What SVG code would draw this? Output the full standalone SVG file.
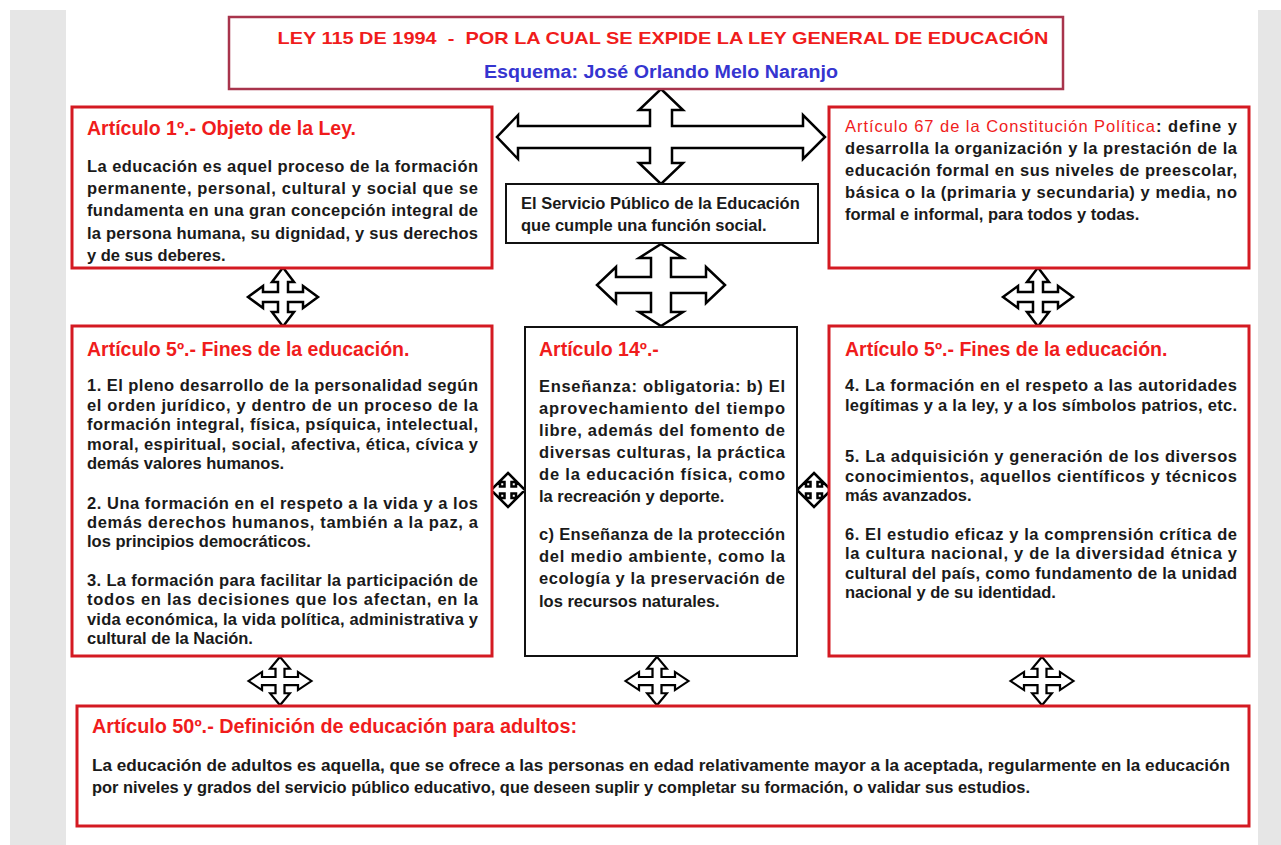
<svg xmlns="http://www.w3.org/2000/svg" xmlns:xlink="http://www.w3.org/1999/xlink" width="1281" height="845" viewBox="0 0 1281 845">
<style>
text{font-family:"Liberation Sans",Arial,Helvetica,sans-serif;font-weight:bold;}
.box{fill:#fff;stroke:#d41a22;stroke-width:3;}
.bbox{fill:#fff;stroke:#111;stroke-width:2;}
.tbox{fill:#fff;stroke:#a8344c;stroke-width:2.5;}
.hd{fill:#f01c1c;font-size:19.5px;}
.bd{fill:#1a1a1a;font-size:16.5px;}
.arr{fill:#fff;stroke:#000;stroke-width:2.5;stroke-linejoin:miter;}
</style>
<defs>
<path id="xs" d="M0,-29.5 L11,-15 L5,-15 L5,-5 L20,-5 L20,-11 L35,0 L20,11 L20,5 L5,5 L5,15 L11,15 L0,29.5 L-11,15 L-5,15 L-5,5 L-20,5 L-20,11 L-35,0 L-20,-11 L-20,-5 L-5,-5 L-5,-15 L-11,-15 Z"/>
<path id="xt" d="M0,-17 L9,-8 L3.5,-8 L3.5,-3.5 L8,-3.5 L8,-9 L17,0 L8,9 L8,3.5 L3.5,3.5 L3.5,8 L9,8 L0,17 L-9,8 L-3.5,8 L-3.5,3.5 L-8,3.5 L-8,9 L-17,0 L-8,-9 L-8,-3.5 L-3.5,-3.5 L-3.5,-8 L-9,-8 Z"/>
</defs>
<rect x="0" y="0" width="1281" height="845" fill="#fff"/>
<rect x="10" y="10" width="1271" height="835" fill="#e6e6e6"/>
<rect x="66" y="10" width="1192" height="835" fill="#fff"/>

<g id="connectors">
<path class="arr" d="M661,89 L683,110 L672,110 L672,126 L803,126 L803,115 L825,137 L803,159 L803,148 L672,148 L672,163 L683,163 L661,184 L639,163 L650,163 L650,148 L518,148 L518,159 L497,137 L518,115 L518,126 L650,126 L650,110 L639,110 Z"/>
<path class="arr" d="M661,244 L683,258 L671,258 L671,277 L706,277 L706,267 L725,285 L706,303 L706,293 L671,293 L671,312 L683,312 L661,326 L639,312 L651,312 L651,293 L616,293 L616,303 L597,285 L616,267 L616,277 L651,277 L651,258 L639,258 Z"/>
<use xlink:href="#xs" class="arr" transform="translate(283,297)"/>
<use xlink:href="#xs" class="arr" transform="translate(1038,297)"/>
<use xlink:href="#xt" class="arr" transform="translate(508,490)"/>
<use xlink:href="#xt" class="arr" transform="translate(814,490)"/>
<use xlink:href="#xs" class="arr" transform="translate(280,681) scale(0.9,0.82)"/>
<use xlink:href="#xs" class="arr" transform="translate(657,681) scale(0.9,0.82)"/>
<use xlink:href="#xs" class="arr" transform="translate(1042,681) scale(0.9,0.82)"/>
</g>

<g id="title">
<rect class="tbox" x="229" y="17" width="834" height="72"/>
<text x="663" y="44" text-anchor="middle" fill="#f01c1c" font-size="17" textLength="771" lengthAdjust="spacingAndGlyphs" xml:space="preserve">LEY 115 DE 1994  -  POR LA CUAL SE EXPIDE LA LEY GENERAL DE EDUCACIÓN</text>
<text x="661" y="78" text-anchor="middle" fill="#3535d0" font-size="17.5" textLength="354" lengthAdjust="spacingAndGlyphs">Esquema: José Orlando Melo Naranjo</text>
</g>

<g id="art1">
<rect class="box" x="72" y="107" width="420" height="161"/>
<text class="hd" x="87" y="135">Artículo 1º.- Objeto de la Ley.</text>
<text class="bd" x="87" y="172" textLength="391" lengthAdjust="spacing">La educación es aquel proceso de la formación</text>
<text class="bd" x="87" y="194" textLength="391" lengthAdjust="spacing">permanente, personal, cultural y social que se</text>
<text class="bd" x="87" y="216" textLength="391" lengthAdjust="spacing">fundamenta en una gran concepción integral de</text>
<text class="bd" x="87" y="239" textLength="391" lengthAdjust="spacing">la persona humana, su dignidad, y sus derechos</text>
<text class="bd" x="87" y="261">y de sus deberes.</text>
</g>

<g id="art67">
<rect class="box" x="829" y="107" width="420" height="161"/>
<text class="bd" x="845" y="132" textLength="392" lengthAdjust="spacing"><tspan fill="#f01c1c" font-weight="normal">Artículo 67 de la Constitución Política</tspan>: define y</text>
<text class="bd" x="845" y="154" textLength="392" lengthAdjust="spacing">desarrolla la organización y la prestación de la</text>
<text class="bd" x="845" y="176" textLength="392" lengthAdjust="spacing">educación formal en sus niveles de preescolar,</text>
<text class="bd" x="845" y="198" textLength="392" lengthAdjust="spacing">básica o la (primaria y secundaria) y media, no</text>
<text class="bd" x="845" y="220">formal e informal, para todos y todas.</text>
</g>

<g id="servicio">
<rect class="bbox" x="506" y="184" width="312" height="59"/>
<text class="bd" x="521" y="209" font-size="16.3">El Servicio Público de la Educación</text>
<text class="bd" x="521" y="231" font-size="16.3">que cumple una función social.</text>
</g>

<g id="art5a">
<rect class="box" x="72" y="326" width="420" height="330"/>
<text class="hd" x="87" y="356">Artículo 5º.- Fines de la educación.</text>
<text class="bd" x="87" y="391" textLength="391" lengthAdjust="spacing">1. El pleno desarrollo de la personalidad según</text>
<text class="bd" x="87" y="411" textLength="391" lengthAdjust="spacing">el orden jurídico, y dentro de un proceso de la</text>
<text class="bd" x="87" y="430" textLength="391" lengthAdjust="spacing">formación integral, física, psíquica, intelectual,</text>
<text class="bd" x="87" y="450" textLength="391" lengthAdjust="spacing">moral, espiritual, social, afectiva, ética, cívica y</text>
<text class="bd" x="87" y="469">demás valores humanos.</text>
<text class="bd" x="87" y="509" textLength="391" lengthAdjust="spacing">2. Una formación en el respeto a la vida y a los</text>
<text class="bd" x="87" y="528" textLength="391" lengthAdjust="spacing">demás derechos humanos, también a la paz, a</text>
<text class="bd" x="87" y="547">los principios democráticos.</text>
<text class="bd" x="87" y="586" textLength="391" lengthAdjust="spacing">3. La formación para facilitar la participación de</text>
<text class="bd" x="87" y="605" textLength="391" lengthAdjust="spacing">todos en las decisiones que los afectan, en la</text>
<text class="bd" x="87" y="625" textLength="391" lengthAdjust="spacing">vida económica, la vida política, administrativa y</text>
<text class="bd" x="87" y="644">cultural de la Nación.</text>
</g>

<g id="art14">
<rect class="bbox" x="525" y="327" width="272" height="329"/>
<text class="hd" x="539" y="356">Artículo 14º.-</text>
<text class="bd" x="539" y="392" textLength="246" lengthAdjust="spacing">Enseñanza: obligatoria: b) El</text>
<text class="bd" x="539" y="414" textLength="246" lengthAdjust="spacing">aprovechamiento del tiempo</text>
<text class="bd" x="539" y="436" textLength="246" lengthAdjust="spacing">libre, además del fomento de</text>
<text class="bd" x="539" y="458" textLength="246" lengthAdjust="spacing">diversas culturas, la práctica</text>
<text class="bd" x="539" y="480" textLength="246" lengthAdjust="spacing">de la educación física, como</text>
<text class="bd" x="539" y="502">la recreación y deporte.</text>
<text class="bd" x="539" y="540" textLength="246" lengthAdjust="spacing">c) Enseñanza de la protección</text>
<text class="bd" x="539" y="562" textLength="246" lengthAdjust="spacing">del medio ambiente, como la</text>
<text class="bd" x="539" y="584" textLength="246" lengthAdjust="spacing">ecología y la preservación de</text>
<text class="bd" x="539" y="607">los recursos naturales.</text>
</g>

<g id="art5b">
<rect class="box" x="829" y="326" width="420" height="330"/>
<text class="hd" x="845" y="356">Artículo 5º.- Fines de la educación.</text>
<text class="bd" x="845" y="391" textLength="392" lengthAdjust="spacing">4. La formación en el respeto a las autoridades</text>
<text class="bd" x="845" y="411" textLength="392" lengthAdjust="spacing">legítimas y a la ley, y a los símbolos patrios, etc.</text>
<text class="bd" x="845" y="462" textLength="392" lengthAdjust="spacing">5. La adquisición y generación de los diversos</text>
<text class="bd" x="845" y="482" textLength="392" lengthAdjust="spacing">conocimientos, aquellos científicos y técnicos</text>
<text class="bd" x="845" y="501">más avanzados.</text>
<text class="bd" x="845" y="540" textLength="392" lengthAdjust="spacing">6. El estudio eficaz y la comprensión crítica de</text>
<text class="bd" x="845" y="559" textLength="392" lengthAdjust="spacing">la cultura nacional, y de la diversidad étnica y</text>
<text class="bd" x="845" y="579" textLength="392" lengthAdjust="spacing">cultural del país, como fundamento de la unidad</text>
<text class="bd" x="845" y="598">nacional y de su identidad.</text>
</g>

<g id="art50">
<rect class="box" x="77" y="706" width="1172" height="120"/>
<text class="hd" x="92" y="733" textLength="485" lengthAdjust="spacingAndGlyphs">Artículo 50º.- Definición de educación para adultos:</text>
<text class="bd" x="92" y="771" textLength="1138" lengthAdjust="spacingAndGlyphs">La educación de adultos es aquella, que se ofrece a las personas en edad relativamente mayor a la aceptada, regularmente en la educación</text>
<text class="bd" x="92" y="793" textLength="938" lengthAdjust="spacingAndGlyphs">por niveles y grados del servicio público educativo, que deseen suplir y completar su formación, o validar sus estudios.</text>
</g>
</svg>
